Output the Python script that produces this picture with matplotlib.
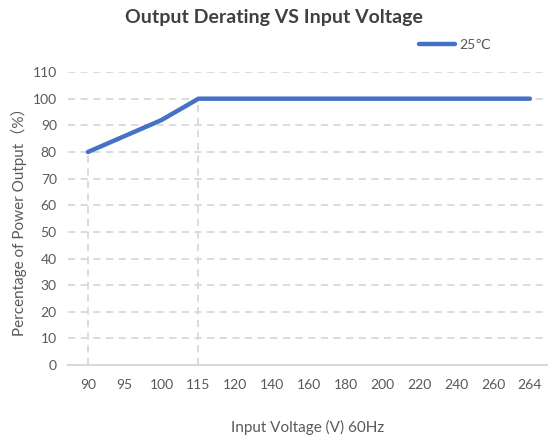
import matplotlib
matplotlib.use("Agg")
import matplotlib.pyplot as plt

# Categorical input voltages (V) and power output (%) at 25 C
voltages = ["90", "95", "100", "115", "120", "140", "160", "180",
            "200", "220", "240", "260", "264"]
power_pct = [80, 86, 92, 100, 100, 100, 100, 100, 100, 100, 100, 100, 100]
y_ticks = [0, 10, 20, 30, 40, 50, 60, 70, 80, 90, 100, 110]
series_label = "25℃"

plt.rcParams["font.family"] = ["Lato", "DejaVu Sans", "Noto Sans CJK SC"]
GREY = "#595959"
BLUE = "#4472C4"

fig = plt.figure(figsize=(5.48, 4.42), dpi=100)
ax = fig.add_axes([0.124, 0.174, 0.876, 0.663])

x = list(range(len(voltages)))
ax.plot(x, power_pct, color=BLUE, lw=3.2, solid_capstyle="round",
        label=series_label, zorder=3)

# drop lines at the break points
for i in (0, 3):
    ax.vlines(x[i], 0, power_pct[i], colors="#d9d9d9", lw=1.3,
              linestyles=(0, (4, 3)), zorder=1)

ax.set_xlim(-0.543, 12.49)
ax.set_ylim(0, 110)
ax.set_xticks(x)
ax.set_xticklabels(voltages)
ax.set_yticks(y_ticks)
ax.yaxis.grid(True, color="#d9d9d9", lw=1.3, ls=(0, (4, 3)))
ax.set_axisbelow(True)
ax.tick_params(length=0, labelsize=10, colors=GREY, pad=8)
ax.tick_params(axis="x", pad=10)
for s in ("top", "right", "left"):
    ax.spines[s].set_visible(False)
ax.spines["bottom"].set_color("#d9d9d9")
ax.spines["bottom"].set_linewidth(1.5)

ax.set_xlabel("Input Voltage (V) 60Hz", fontsize=11, color=GREY, labelpad=21)
ax.set_ylabel("Percentage of Power Output（%）", fontsize=11, color=GREY,
              labelpad=4)

fig.text(0.5, 0.96, "Output Derating VS Input Voltage", ha="center",
         va="center", fontsize=14, fontweight="bold", color="#404040")

fig.legend(loc="center left", bbox_to_anchor=(0.742, 0.898), frameon=False,
           handlelength=2.6, fontsize=10, labelcolor=GREY, handletextpad=0.3)

fig.savefig("out.png", dpi=100)
